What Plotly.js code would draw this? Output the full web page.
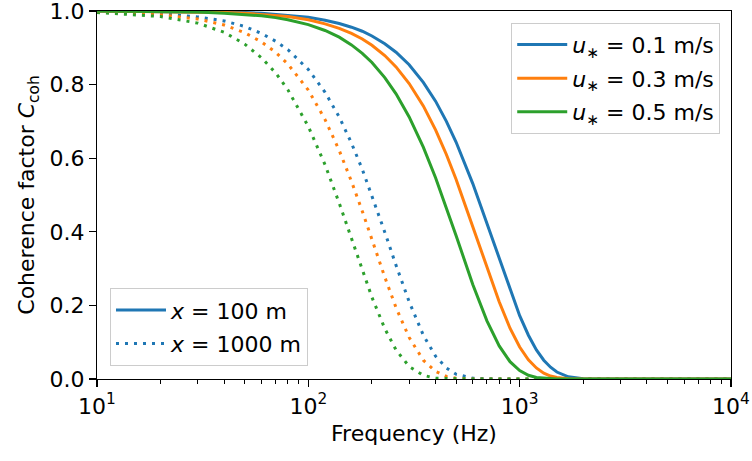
<!DOCTYPE html>
<html><head><meta charset="utf-8">
<script src="https://cdn.plot.ly/plotly-3.0.1.min.js"></script>
<style>html,body{margin:0;padding:0;background:#fff}</style>
</head><body><div id="chart" style="width:752px;height:461px"></div>
<script>
// Frequency samples (Hz)
const freq = [10, 20, 30, 40, 50, 60, 70, 80, 100, 120, 140, 160, 180, 200, 230, 260, 300, 350, 400, 450, 500, 600, 700, 800, 900, 1000, 1100, 1200, 1300, 1400, 1500, 1700, 2000, 3000, 10000];

// x = 100 m (solid)
const x100_u01 = [1.000, 0.999, 0.998, 0.997, 0.996, 0.994, 0.991, 0.989, 0.983, 0.975, 0.966, 0.956, 0.945, 0.932, 0.911, 0.888, 0.854, 0.806, 0.755, 0.700, 0.644, 0.531, 0.422, 0.324, 0.241, 0.172, 0.119, 0.079, 0.051, 0.032, 0.019, 0.006, 0.001, 0, 0];
const x100_u03 = [1.000, 0.999, 0.998, 0.996, 0.994, 0.991, 0.988, 0.985, 0.976, 0.965, 0.953, 0.939, 0.924, 0.907, 0.879, 0.848, 0.803, 0.742, 0.677, 0.610, 0.543, 0.415, 0.302, 0.210, 0.138, 0.087, 0.052, 0.030, 0.016, 0.008, 0.004, 0.001, 0, 0, 0];
const x100_u05 = [1.000, 0.998, 0.997, 0.994, 0.991, 0.987, 0.982, 0.976, 0.963, 0.947, 0.929, 0.908, 0.885, 0.860, 0.819, 0.775, 0.712, 0.630, 0.547, 0.466, 0.390, 0.257, 0.158, 0.090, 0.047, 0.023, 0.010, 0.004, 0.002, 0.001, 0, 0, 0, 0, 0];

// x = 1000 m (dotted)
const x1000_u01 = [0.998, 0.993, 0.984, 0.973, 0.958, 0.939, 0.918, 0.895, 0.841, 0.779, 0.712, 0.641, 0.570, 0.499, 0.399, 0.309, 0.210, 0.119, 0.062, 0.030, 0.013, 0.002, 0, 0, 0, 0, 0, 0, 0, 0, 0, 0, 0, 0, 0];
const x1000_u03 = [0.998, 0.990, 0.978, 0.962, 0.941, 0.916, 0.888, 0.856, 0.785, 0.705, 0.621, 0.537, 0.456, 0.379, 0.277, 0.194, 0.113, 0.051, 0.021, 0.007, 0.002, 0, 0, 0, 0, 0, 0, 0, 0, 0, 0, 0, 0, 0, 0];
const x1000_u05 = [0.996, 0.985, 0.967, 0.942, 0.910, 0.873, 0.832, 0.786, 0.686, 0.582, 0.478, 0.382, 0.295, 0.222, 0.137, 0.079, 0.034, 0.010, 0.002, 0.001, 0, 0, 0, 0, 0, 0, 0, 0, 0, 0, 0, 0, 0, 0, 0];

// Tick labels
const xTickVals = [10, 100, 1000, 10000];
const xTickText = ['10<sup>1</sup>', '10<sup>2</sup>', '10<sup>3</sup>', '10<sup>4</sup>'];
const yTickVals = [0, 0.2, 0.4, 0.6, 0.8, 1.0];
const yTickText = ['0.0', '0.2', '0.4', '0.6', '0.8', '1.0'];

const uLabels = ['<i>u</i><sub>∗</sub> = 0.1 m/s', '<i>u</i><sub>∗</sub> = 0.3 m/s', '<i>u</i><sub>∗</sub> = 0.5 m/s'];
const xLabels = ['<i>x</i> = 100 m', '<i>x</i> = 1000 m'];
const colors = ['#1f77b4', '#ff7f0e', '#2ca02c'];

const solid = [x100_u01, x100_u03, x100_u05];
const dotted = [x1000_u01, x1000_u03, x1000_u05];
const DOT = '3px,6px';
const LW = 3;

const traces = [];
for (let i = 0; i < 3; i++) {
  traces.push({x: freq, y: dotted[i], mode: 'lines', line: {color: colors[i], width: LW, dash: DOT}, showlegend: false, hoverinfo: 'skip'});
}
for (let i = 0; i < 3; i++) {
  traces.push({x: freq, y: solid[i], mode: 'lines', name: uLabels[i], line: {color: colors[i], width: LW}, legend: 'legend', legendgroup: 'u' + i});
}
traces.push({x: [null], y: [null], mode: 'lines', name: xLabels[0], line: {color: colors[0], width: LW}, legend: 'legend2', legendgroup: 'x0'});
traces.push({x: [null], y: [null], mode: 'lines', name: xLabels[1], line: {color: colors[0], width: LW, dash: DOT}, legend: 'legend2', legendgroup: 'x1'});

const F = 'DejaVu Sans, sans-serif';
const FS = 22;
const layout = {
  width: 752, height: 461,
  margin: {l: 97, r: 21, t: 11, b: 82},
  paper_bgcolor: '#fff', plot_bgcolor: '#fff',
  font: {family: F, size: FS, color: '#000'},
  xaxis: {
    type: 'log', range: [1, 4], tickmode: 'array', tickvals: xTickVals, ticktext: xTickText,
    showgrid: false, zeroline: false,
    showline: true, linecolor: '#000', linewidth: 1.2, mirror: true,
    ticks: 'outside', ticklen: 7, tickwidth: 1.2, tickcolor: '#000',
    minor: {ticks: 'outside', ticklen: 4, tickwidth: 1, tickcolor: '#000', dtick: 'D1', showgrid: false},
    tickfont: {family: F, size: FS, color: '#000'},
    ticklabeloverflow: 'allow',
    title: {text: 'Frequency (Hz)', font: {family: F, size: FS, color: '#000'}, standoff: 8}
  },
  yaxis: {
    range: [0, 1], tickmode: 'array', tickvals: yTickVals, ticktext: yTickText,
    showgrid: false, zeroline: false,
    showline: true, linecolor: '#000', linewidth: 1.2, mirror: true,
    ticks: 'outside', ticklen: 7, tickwidth: 1.2, tickcolor: '#000',
    tickfont: {family: F, size: FS, color: '#000'},
    ticklabeloverflow: 'allow',
    title: {text: 'Coherence factor <i>C</i><sub>coh</sub>', font: {family: F, size: FS, color: '#000'}, standoff: 8}
  },
  legend: {
    x: 0.983, y: 0.968, xanchor: 'right', yanchor: 'top',
    bgcolor: 'rgba(255,255,255,0.8)', bordercolor: '#cccccc', borderwidth: 1,
    font: {family: F, size: FS, color: '#000'}, tracegroupgap: 2, itemwidth: 50
  },
  legend2: {
    x: 0.0205, y: 0.035, xanchor: 'left', yanchor: 'bottom',
    bgcolor: 'rgba(255,255,255,0.8)', bordercolor: '#cccccc', borderwidth: 1,
    font: {family: F, size: FS, color: '#000'}, tracegroupgap: 2, itemwidth: 50
  },
  showlegend: true
};
Plotly.newPlot('chart', traces, layout, {displayModeBar: false, staticPlot: true});
</script>
</body></html>
